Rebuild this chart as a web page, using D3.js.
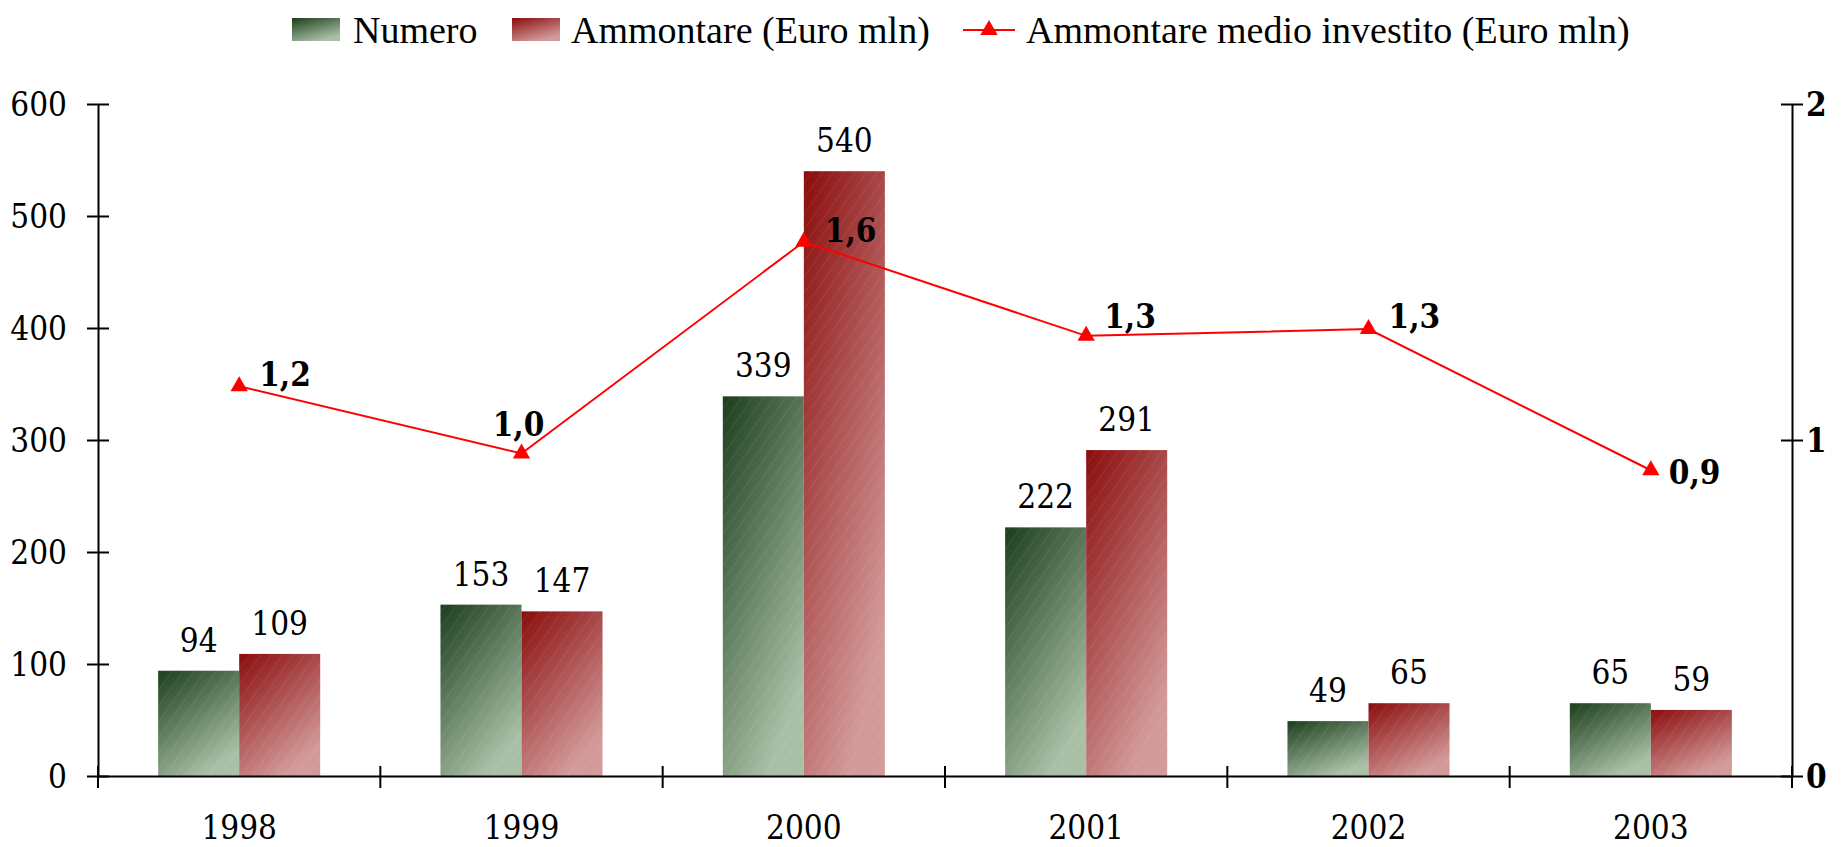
<!DOCTYPE html>
<html>
<head>
<meta charset="utf-8">
<script src="https://cdn.jsdelivr.net/npm/d3@7"></script>
<style>
  html, body { margin: 0; padding: 0; background: #fff; }
  svg { display: block; }
  .num { font-family: "DejaVu Serif", serif; font-stretch: condensed; font-size: 33px; fill: #000; }
  .bold { font-weight: bold; }
  .legend text { font-family: "Liberation Serif", "Times New Roman", serif; font-size: 38px; fill: #000; }
</style>
</head>
<body>
<svg id="chart" width="1843" height="847"></svg>
<script>
/* Numero / Ammontare bar chart with average amount line on a right axis. */

const years = ["1998", "1999", "2000", "2001", "2002", "2003"];
const numero = [94, 153, 339, 222, 49, 65];
const ammontare = [109, 147, 540, 291, 65, 59];
const medio = [1.16, 0.96, 1.59, 1.31, 1.33, 0.91];
const leftTicks = [0, 100, 200, 300, 400, 500, 600];
const rightTicks = [0, 1, 2];
const seriesNames = ["Numero", "Ammontare (Euro mln)", "Ammontare medio investito (Euro mln)"];

// label placement for the line values, relative to each marker
const medioLabelDx = [20, -3, 21, 18, 20, 18];
const medioLabelDy = [0, -17, 0, -8, -1, 14];
const medioLabelAnchor = ["start", "middle", "start", "start", "start", "start"];

const fmtComma = (v) => v.toFixed(1).replace(".", ",");

const svg = d3.select("#chart");
const plotL = 98, plotR = 1792, plotT = 104, plotB = 776;

const x = d3.scaleBand().domain(years).range([plotL, plotR]).paddingInner(0).paddingOuter(0);
const groupW = x.bandwidth() * 0.574;
const xs = d3.scaleBand().domain(["n", "a"]).range([0, groupW]);
const y = d3.scaleLinear().domain([0, 600]).range([plotB, plotT]);
const y2 = d3.scaleLinear().domain([0, 2]).range([plotB, plotT]);

// gradients and texture
const defs = svg.append("defs");
function grad(id, c0, c1) {
  const g = defs.append("linearGradient").attr("id", id)
    .attr("x1", 0).attr("y1", 0).attr("x2", 0.55).attr("y2", 1);
  g.append("stop").attr("offset", "0%").attr("stop-color", c0);
  g.append("stop").attr("offset", "100%").attr("stop-color", c1);
}
grad("gGreen", "#1c3e1c", "#a9c0a6");
grad("gRed", "#8a0c0c", "#d39a9a");
const pat = defs.append("pattern").attr("id", "hatch")
  .attr("width", 9).attr("height", 9).attr("patternUnits", "userSpaceOnUse")
  .attr("patternTransform", "rotate(35)");
pat.append("line").attr("x1", 0).attr("y1", 0).attr("x2", 0).attr("y2", 9)
  .attr("stroke", "#fff").attr("stroke-opacity", 0.12).attr("stroke-width", 1.2);

// bars
const groups = svg.append("g").selectAll("g")
  .data(years)
  .join("g")
  .attr("transform", (d) => `translate(${x(d) + (x.bandwidth() - groupW) / 2},0)`);

groups.each(function (yr, i) {
  const g = d3.select(this);
  const vals = [
    { key: "n", v: numero[i], fill: "url(#gGreen)" },
    { key: "a", v: ammontare[i], fill: "url(#gRed)" },
  ];
  vals.forEach((b) => {
    g.append("rect")
      .attr("x", xs(b.key)).attr("y", y(b.v))
      .attr("width", xs.bandwidth()).attr("height", y(0) - y(b.v))
      .attr("fill", b.fill);
    g.append("rect")
      .attr("x", xs(b.key)).attr("y", y(b.v))
      .attr("width", xs.bandwidth()).attr("height", y(0) - y(b.v))
      .attr("fill", "url(#hatch)");
    g.append("text")
      .attr("class", "num")
      .attr("x", xs(b.key) + xs.bandwidth() / 2)
      .attr("y", y(b.v) - 19)
      .attr("text-anchor", "middle")
      .text(b.v);
  });
});

// left axis
const yAxis = svg.append("g")
  .attr("transform", `translate(${plotL},0)`)
  .call(d3.axisLeft(y).tickValues(leftTicks).tickSize(11).tickSizeOuter(0).tickPadding(20));
yAxis.selectAll(".tick line").attr("x1", -11).attr("x2", 11);
yAxis.selectAll(".tick text").attr("class", "num").attr("dy", "0.36em");

// right axis
const yAxis2 = svg.append("g")
  .attr("transform", `translate(${plotR},0)`)
  .call(d3.axisRight(y2).tickValues(rightTicks).tickFormat(d3.format("d"))
    .tickSize(11).tickSizeOuter(0).tickPadding(3));
yAxis2.selectAll(".tick line").attr("x1", -11).attr("x2", 11);
yAxis2.selectAll(".tick text").attr("class", "num bold").attr("dy", "0.36em");

// bottom axis: category labels + boundary ticks
const xAxis = svg.append("g")
  .attr("transform", `translate(0,${plotB})`)
  .call(d3.axisBottom(x).tickSize(0).tickPadding(51).tickSizeOuter(0));
xAxis.selectAll(".tick text").attr("class", "num").attr("dy", "0.36em");
xAxis.selectAll(".tick line").remove();
const bounds = years.map((d) => x(d)).concat([plotR]);
xAxis.selectAll("line.bound")
  .data(bounds)
  .join("line")
  .attr("class", "bound")
  .attr("x1", (d) => d).attr("x2", (d) => d)
  .attr("y1", -10).attr("y2", 12);

svg.selectAll(".domain, .tick line, line.bound")
  .attr("stroke", "#000").attr("stroke-width", 2);

// line series
const line = d3.line()
  .x((d, i) => x(years[i]) + x.bandwidth() / 2)
  .y((d) => y2(d));
svg.append("path")
  .datum(medio)
  .attr("d", line)
  .attr("fill", "none")
  .attr("stroke", "#ff0000")
  .attr("stroke-width", 2);

const tri = d3.symbol().type(d3.symbolTriangle).size(130);
svg.append("g").selectAll("path")
  .data(medio)
  .join("path")
  .attr("d", tri)
  .attr("fill", "#ff0000")
  .attr("transform", (d, i) => `translate(${x(years[i]) + x.bandwidth() / 2},${y2(d)})`);

svg.append("g").selectAll("text")
  .data(medio)
  .join("text")
  .attr("class", "num bold")
  .attr("x", (d, i) => x(years[i]) + x.bandwidth() / 2 + medioLabelDx[i])
  .attr("y", (d, i) => y2(d) + medioLabelDy[i])
  .attr("text-anchor", (d, i) => medioLabelAnchor[i])
  .text((d) => fmtComma(d));

// legend
const legend = svg.append("g").attr("class", "legend");
legend.append("rect").attr("x", 292).attr("y", 18).attr("width", 48).attr("height", 23).attr("fill", "url(#gGreen)");
legend.append("text").attr("x", 353).attr("y", 43).text(seriesNames[0]);
legend.append("rect").attr("x", 512).attr("y", 18).attr("width", 48).attr("height", 23).attr("fill", "url(#gRed)");
legend.append("text").attr("x", 571).attr("y", 43).text(seriesNames[1]);
legend.append("line").attr("x1", 963).attr("x2", 1015).attr("y1", 30).attr("y2", 30)
  .attr("stroke", "#ff0000").attr("stroke-width", 2);
legend.append("path").attr("d", tri).attr("fill", "#ff0000").attr("transform", "translate(989,30)");
legend.append("text").attr("x", 1026).attr("y", 43).text(seriesNames[2]);
</script>
</body>
</html>
